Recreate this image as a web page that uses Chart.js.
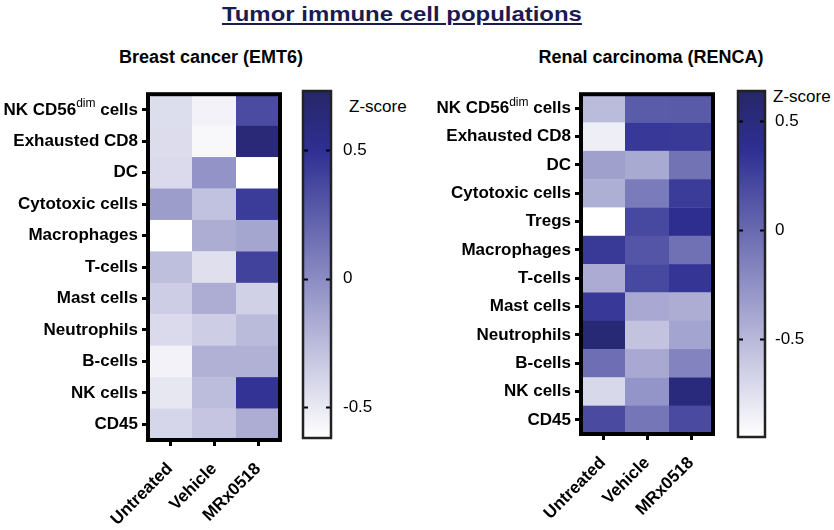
<!DOCTYPE html>
<html><head><meta charset="utf-8">
<script src="https://cdn.jsdelivr.net/npm/chart.js@4/dist/chart.umd.min.js"></script>
<style>
html,body{margin:0;padding:0;background:#fff;}
#wrap{position:relative;width:834px;height:530px;overflow:hidden;font-family:"Liberation Sans",Arial,Helvetica,sans-serif;}
canvas{position:absolute;}
.t{position:absolute;white-space:nowrap;text-align:center;}
</style></head><body>
<div id="wrap">
  <div class="t" style="left:152px;width:500px;top:3px;font-size:21px;line-height:21px;font-weight:bold;color:#1b1b52;"><span style="display:inline-block;transform:scaleX(1.14);transform-origin:50% 50%;text-decoration:underline;text-decoration-thickness:2px;text-underline-offset:2px;">Tumor immune cell populations</span></div>
  <div class="t" style="left:61px;width:300px;top:48px;font-size:18px;line-height:18px;font-weight:bold;color:#000;">Breast cancer (EMT6)</div>
  <div class="t" style="left:501px;width:300px;top:48px;font-size:18px;line-height:18px;font-weight:bold;color:#000;">Renal carcinoma (RENCA)</div>
  <div class="t" style="left:349px;top:98px;font-size:17px;line-height:17px;color:#000;text-align:left;">Z-score</div>
  <div class="t" style="left:773px;top:88px;font-size:17px;line-height:17px;color:#000;text-align:left;">Z-score</div>
  <canvas id="heatL" width="300" height="450" style="left:0px;top:80px;"></canvas>
  <canvas id="barL" width="130" height="380" style="left:290px;top:80px;"></canvas>
  <canvas id="heatR" width="300" height="450" style="left:433px;top:80px;"></canvas>
  <canvas id="barR" width="109" height="380" style="left:725px;top:80px;"></canvas>
</div>
<script>
// ---------------- DATA ----------------
const conditions = ['Untreated', 'Vehicle', 'MRx0518'];

const rowsEMT6 = ['NK CD56dim cells', 'Exhausted CD8', 'DC', 'Cytotoxic cells', 'Macrophages', 'T-cells',
                  'Mast cells', 'Neutrophils', 'B-cells', 'NK cells', 'CD45'];
const emt6Untreated = [-0.44, -0.43, -0.42, -0.09, -0.62, -0.27, -0.35, -0.42, -0.55, -0.49, -0.40];
const emt6Vehicle   = [-0.55, -0.58, -0.04, -0.29, -0.18, -0.45, -0.18, -0.35, -0.20, -0.26, -0.31];
const emt6MRx0518   = [ 0.35,  0.65, -0.62,  0.43, -0.14,  0.40, -0.37, -0.25, -0.20,  0.48, -0.18];
const zRangeEMT6 = [-0.62, 0.73];

const rowsRENCA = ['NK CD56dim cells', 'Exhausted CD8', 'DC', 'Cytotoxic cells', 'Tregs', 'Macrophages', 'T-cells',
                   'Mast cells', 'Neutrophils', 'B-cells', 'NK cells', 'CD45'];
const rencaUntreated = [-0.52, -0.84, -0.35, -0.44, -0.95,  0.30, -0.42,  0.31,  0.56, -0.03, -0.70,  0.20];
const rencaVehicle   = [ 0.09,  0.31, -0.41, -0.11,  0.21,  0.13,  0.21, -0.40, -0.57, -0.40, -0.27, -0.08];
const rencaMRx0518   = [ 0.10,  0.30, -0.06,  0.29,  0.39, -0.05,  0.33, -0.43, -0.37, -0.17,  0.51,  0.20];
const zRangeRENCA = [-0.95, 0.64];

const zTicks = [-0.5, 0, 0.5];

// ---------------- STYLE ----------------
const FONT = "'Liberation Sans', Arial, Helvetica, sans-serif";
Chart.defaults.font.family = FONT;
Chart.defaults.color = '#000';
const STOPS = [[0, [255, 255, 255]], [0.83, [46, 47, 146]], [1, [38, 38, 104]]];

function zColor(v, lo, hi) {
  let f = (v - lo) / (hi - lo);
  f = Math.max(0, Math.min(1, f));
  for (let i = 1; i < STOPS.length; i++) {
    if (f <= STOPS[i][0]) {
      const [f0, c0] = STOPS[i - 1], [f1, c1] = STOPS[i];
      const t = (f - f0) / (f1 - f0);
      const c = c0.map((a, k) => Math.round(a + (c1[k] - a) * t));
      return `rgb(${c[0]},${c[1]},${c[2]})`;
    }
  }
  return 'rgb(38,38,104)';
}

const heatPlugin = {
  id: 'heat',
  beforeDatasetsDraw(chart) {
    const { ctx, scales: { x, y } } = chart;
    const meta = chart.getDatasetMeta(0);
    const ds = chart.data.datasets[0];
    const cw = (x.right - x.left) / x.getLabels().length;
    const rh = (y.bottom - y.top) / y.getLabels().length;
    ctx.save();
    meta.data.forEach((pt, i) => {
      const d = ds.data[i];
      ctx.fillStyle = zColor(d.v, ds.zRange[0], ds.zRange[1]);
      ctx.fillRect(pt.x - cw / 2, pt.y - rh / 2, cw + 0.3, rh + 0.3);
    });
    ctx.restore();
  },
  afterDatasetsDraw(chart) {
    const { ctx, chartArea: a } = chart;
    ctx.save();
    ctx.strokeStyle = '#000';
    ctx.lineWidth = 4;
    ctx.strokeRect(a.left, a.top, a.right - a.left, a.bottom - a.top);
    ctx.restore();
  },
  afterDraw(chart) {
    // first row label with superscript "dim"
    const { ctx, scales: { y } } = chart;
    const yy = y.getPixelForValue(0);
    let xe = y.right - 6 - 4;
    ctx.save();
    ctx.fillStyle = '#000';
    ctx.textAlign = 'right';
    ctx.textBaseline = 'middle';
    ctx.font = `bold 17px ${FONT}`;
    ctx.fillText(' cells', xe, yy);
    xe -= ctx.measureText(' cells').width;
    ctx.font = `12px ${FONT}`;
    ctx.fillText('dim', xe, yy - 6);
    xe -= ctx.measureText('dim').width;
    ctx.font = `bold 17px ${FONT}`;
    ctx.fillText('NK CD56', xe, yy);
    ctx.restore();
  }
};

function makeHeat(id, rows, series, zRange, g) {
  const data = [];
  series.forEach((arr, ci) => arr.forEach((v, ri) => data.push({ x: conditions[ci], y: rows[ri], v })));
  const tickGrid = { drawOnChartArea: false, drawTicks: true, tickLength: 6, tickWidth: 3, tickColor: '#000', offset: false };
  new Chart(document.getElementById(id), {
    type: 'scatter',
    data: { datasets: [{ data, zRange, pointRadius: 0, pointHoverRadius: 0 }] },
    options: {
      responsive: false, animation: false, events: [],
      layout: { padding: { left: 0, top: g.top, right: g.right, bottom: 0 } },
      plugins: { legend: { display: false }, tooltip: { enabled: false } },
      scales: {
        x: {
          type: 'category', labels: conditions, offset: true, position: 'bottom',
          grid: tickGrid, border: { display: false },
          ticks: { autoSkip: false, maxRotation: 45, minRotation: 45, padding: 13, color: '#000',
                   font: { size: 17, weight: 'bold' } },
          afterFit: s => { s.height = g.xh; }
        },
        y: {
          type: 'category', labels: rows, offset: true, position: 'left',
          grid: tickGrid, border: { display: false },
          ticks: { autoSkip: false, padding: 4, color: '#000', font: { size: 17, weight: 'bold' },
                   callback: (val, i) => (i === 0 ? '' : rows[i]) },
          afterFit: s => { s.width = g.yw; }
        }
      }
    },
    plugins: [heatPlugin]
  });
}

const barPlugin = {
  id: 'cbar',
  afterDatasetsDraw(chart) {
    const { ctx, chartArea: a, scales: { y } } = chart;
    ctx.save();
    ctx.strokeStyle = '#000';
    ctx.lineWidth = 2;
    zTicks.forEach(v => {
      const p = Math.round(y.getPixelForValue(v)) + 0.5;
      ctx.beginPath();
      ctx.moveTo(a.left, p); ctx.lineTo(a.left + 5, p);
      ctx.moveTo(a.right - 5, p); ctx.lineTo(a.right, p);
      ctx.stroke();
    });
    ctx.strokeStyle = '#222';
    ctx.lineWidth = 2.5;
    ctx.strokeRect(a.left, a.top, a.right - a.left, a.bottom - a.top);
    ctx.restore();
  }
};

function makeBar(id, zRange, g) {
  new Chart(document.getElementById(id), {
    type: 'bar',
    data: {
      labels: ['Z-score'],
      datasets: [{
        data: [[zRange[0], zRange[1]]],
        barPercentage: 1, categoryPercentage: 1, borderWidth: 0,
        backgroundColor: c => {
          const ch = c.chart, a = ch.chartArea;
          if (!a) return '#888';
          const y = ch.scales.y;
          const p0 = y.getPixelForValue(zRange[0]), p1 = y.getPixelForValue(zRange[1]);
          const grad = ch.ctx.createLinearGradient(0, p0, 0, p1);
          STOPS.forEach(([f, col]) => grad.addColorStop(f, `rgb(${col[0]},${col[1]},${col[2]})`));
          return grad;
        }
      }]
    },
    options: {
      responsive: false, animation: false, events: [],
      layout: { padding: { left: g.left, top: g.top, right: 0, bottom: g.bottom } },
      plugins: { legend: { display: false }, tooltip: { enabled: false } },
      scales: {
        x: { display: false, offset: true },
        y: {
          position: 'right', min: zRange[0], max: zRange[1],
          grid: { display: false, drawTicks: false }, border: { display: false },
          afterBuildTicks: s => { s.ticks = zTicks.map(v => ({ value: v })); },
          ticks: { padding: g.pad, color: '#000', font: { size: 17 },
                   callback: v => (v === 0 ? '0' : String(v)) },
          afterFit: s => { s.width = g.yw; s.paddingTop = 0; s.paddingBottom = 0; }
        }
      }
    },
    plugins: [barPlugin]
  });
}

makeHeat('heatL', rowsEMT6, [emt6Untreated, emt6Vehicle, emt6MRx0518], zRangeEMT6,
         { top: 11, right: 20, xh: 90, yw: 148 });
makeHeat('heatR', rowsRENCA, [rencaUntreated, rencaVehicle, rencaMRx0518], zRangeRENCA,
         { top: 9, right: 20, xh: 96, yw: 148 });
makeBar('barL', zRangeEMT6, { left: 13, top: 11, bottom: 22, yw: 89, pad: 12 });
makeBar('barR', zRangeRENCA, { left: 13, top: 11, bottom: 23, yw: 69, pad: 10 });
</script>
</body></html>
